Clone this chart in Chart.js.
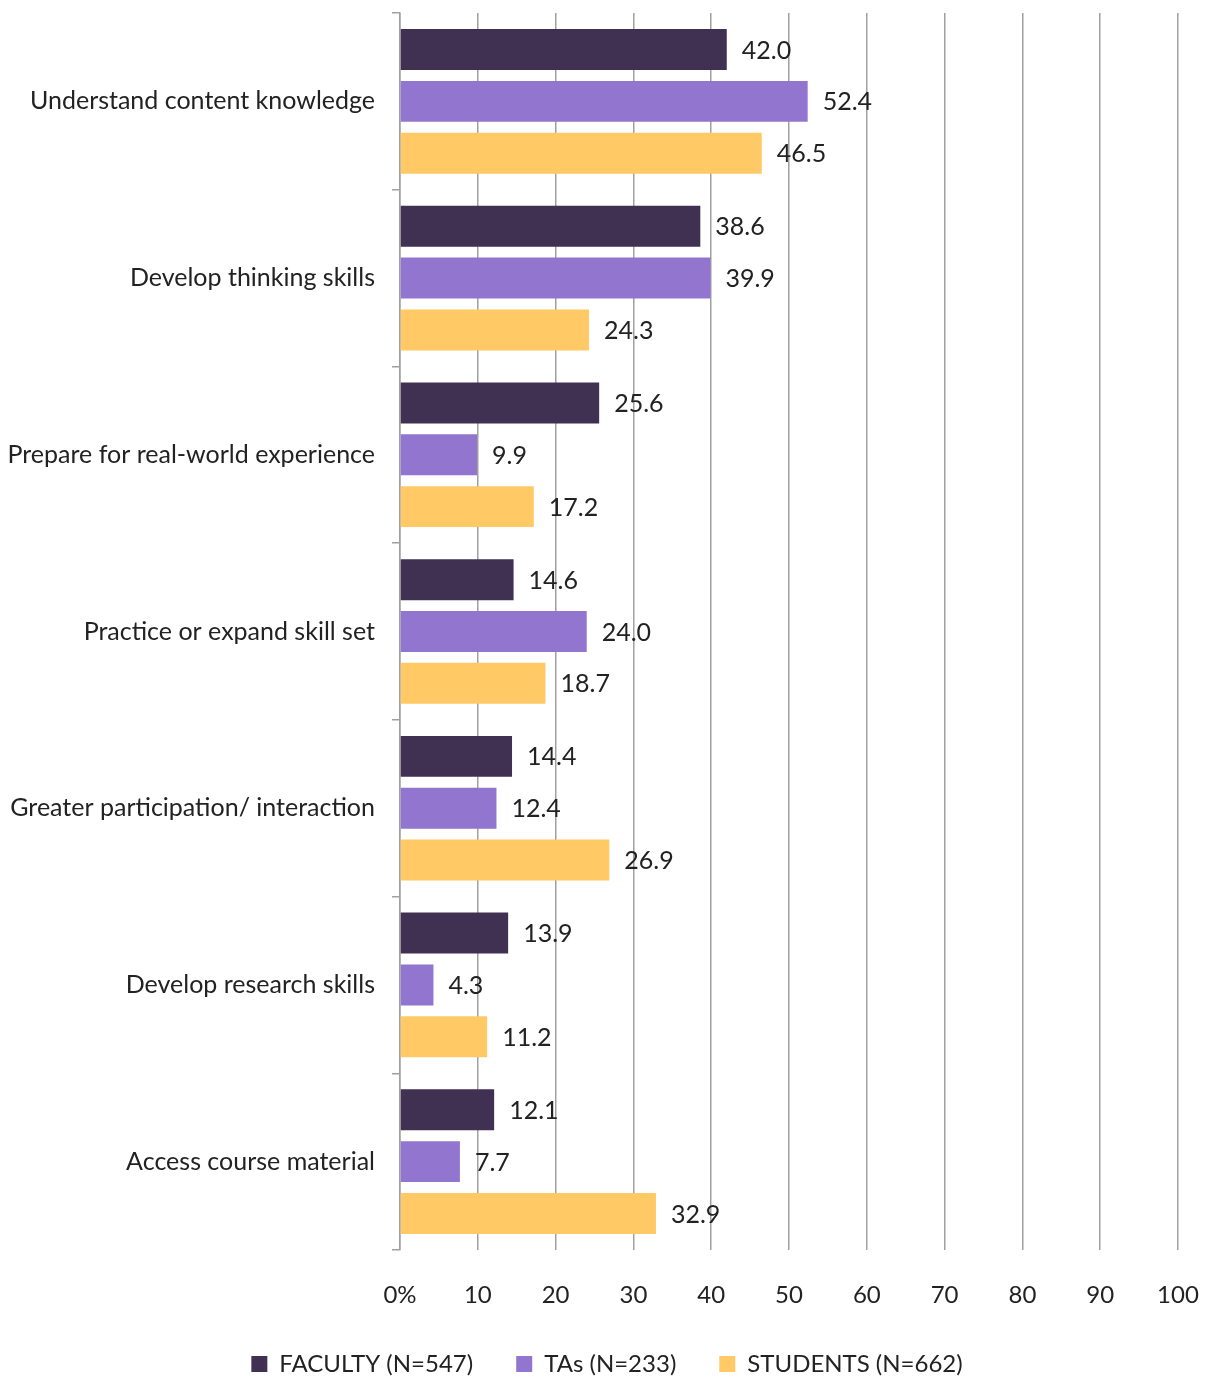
<!DOCTYPE html>
<html lang="en">
<head>
    <meta charset="UTF-8">
    <title>Uses of the tool by group</title>
    <style>
        html, body { margin: 0; padding: 0; background: white; }
        .chart-container { width: 1214px; height: 1378px; }
    </style>
</head>
<body>
    <div class="chart-container">
        <canvas id="barChart"></canvas>
    </div>

    <script src="https://cdn.jsdelivr.net/npm/chart.js"></script>
    <script>
        const categories = [
            'Understand content knowledge',
            'Develop thinking skills',
            'Prepare for real-world experience',
            'Practice or expand skill set',
            'Greater participation/ interaction',
            'Develop research skills',
            'Access course material'
        ];
        const faculty = [42.0, 38.6, 25.6, 14.6, 14.4, 13.9, 12.1];
        const tas = [52.4, 39.9, 9.9, 24.0, 12.4, 4.3, 7.7];
        const students = [46.5, 24.3, 17.2, 18.7, 26.9, 11.2, 32.9];
        const xTicks = [0, 10, 20, 30, 40, 50, 60, 70, 80, 90, 100];

        const FONT = 'Lato, "Open Sans", sans-serif';
        const TEXT = '#222';

        // writes each value just past the end of its bar
        const valueLabels = {
            id: 'valueLabels',
            afterDatasetsDraw(chart) {
                const ctx = chart.ctx;
                ctx.save();
                ctx.font = '25px ' + FONT;
                ctx.fillStyle = TEXT;
                ctx.textAlign = 'left';
                ctx.textBaseline = 'middle';
                chart.data.datasets.forEach((ds, i) => {
                    chart.getDatasetMeta(i).data.forEach((bar, j) => {
                        ctx.fillText(ds.data[j].toFixed(1), bar.x + 15, bar.y + 1);
                    });
                });
                ctx.restore();
            }
        };

        const ctx = document.getElementById('barChart').getContext('2d');
        const barChart = new Chart(ctx, {
            type: 'bar',
            data: {
                labels: categories,
                datasets: [
                    { label: 'FACULTY (N=547)', data: faculty, backgroundColor: '#403152' },
                    { label: 'TAs (N=233)', data: tas, backgroundColor: '#9175cf' },
                    { label: 'STUDENTS (N=662)', data: students, backgroundColor: '#ffca66' }
                ]
            },
            options: {
                indexAxis: 'y',
                responsive: true,
                maintainAspectRatio: false,
                animation: false,
                categoryPercentage: 0.88,
                barPercentage: 0.79,
                layout: { padding: { top: 13, right: 0, left: 0, bottom: -8 } },
                scales: {
                    x: {
                        min: 0,
                        max: 100,
                        afterBuildTicks: (scale) => { scale.ticks = xTicks.map(v => ({ value: v })); },
                        afterFit: (scale) => {
                            scale.height = 59;
                            scale.paddingLeft = 0;
                            // room on the right of the plot, legend stays centred on the page
                            scale.paddingRight = 36;
                        },
                        border: { display: false },
                        grid: { color: '#a0a0a0', lineWidth: 1.5, drawTicks: false },
                        ticks: {
                            padding: 31,
                            color: TEXT,
                            font: { family: FONT, size: 24 },
                            callback: (v) => v === 0 ? '0%' : v
                        }
                    },
                    y: {
                        afterFit: (scale) => {
                            scale.width = 400;
                            scale.paddingTop = 0;
                            scale.paddingBottom = 0;
                        },
                        border: { display: true, color: '#a0a0a0', width: 1.5 },
                        grid: { offset: true, drawOnChartArea: false, tickLength: 8, color: '#a0a0a0', lineWidth: 1.5 },
                        ticks: {
                            padding: 17,
                            color: TEXT,
                            font: { family: FONT, size: 25 }
                        }
                    }
                },
                plugins: {
                    tooltip: { enabled: false },
                    legend: {
                        position: 'bottom',
                        labels: {
                            color: TEXT,
                            font: { family: FONT, size: 24 },
                            boxWidth: 16,
                            boxHeight: 16,
                            padding: 43
                        }
                    }
                }
            },
            plugins: [valueLabels]
        });
    </script>
</body>
</html>
